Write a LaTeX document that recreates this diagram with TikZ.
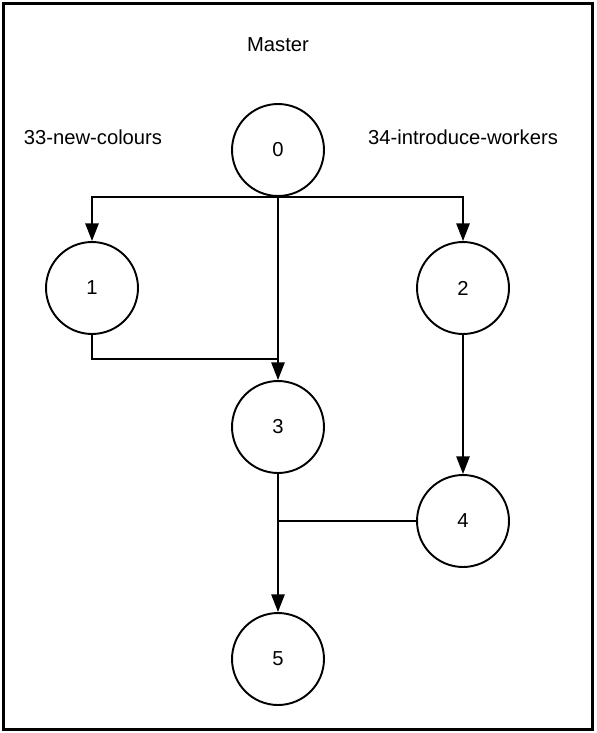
\documentclass[tikz,border=0pt]{standalone}
\usepackage{fontspec}
\setmainfont{Liberation Sans}
\usetikzlibrary{arrows.meta}
\tikzset{
  commit/.style={circle,draw,line width=1.1pt,minimum size=1.84cm,inner sep=0pt,font=\fontsize{11.5}{14}\selectfont},
  branchlabel/.style={font=\fontsize{11.5}{14}\selectfont},
  link/.style={line width=1.1pt},
  arr/.style={link,-{Triangle[length=10pt,width=7.5pt]}}
}
\begin{document}
\begin{tikzpicture}[x=0.02cm,y=-0.02cm]
            \useasboundingbox (0,0) rectangle (596,733);
            % outer frame
            \draw[line width=1.7pt] (3.5,3.5) rectangle (592.5,729.5);

            % branch names
            \node[branchlabel] (master) at (278,45) {Master};
            \node[branchlabel] (newcol) at (93,137) {33-new-colours};
            \node[branchlabel] (intro) at (463,137) {34-introduce-workers};

            % commits
            \node[commit] (n0) at (278,150) {0};
            \node[commit] (n1) at (92,288) {1};
            \node[commit] (n2) at (463,288) {2};
            \node[commit] (n3) at (278,427) {3};
            \node[commit] (n4) at (463,521) {4};
            \node[commit] (n5) at (278,659) {5};

            % branching off master
            \coordinate (split) at (278,197);
            \draw[arr] (split) -| (n1.north);
            \draw[arr] (split) -| (n2.north);
            \draw[arr] (n0) -- (n3);

            % merge of 33-new-colours
            \coordinate (join1) at (278,359);
            \draw[link] (n1.south) |- (join1);

            % 34-introduce-workers
            \draw[arr] (n2) -- (n4);

            % merge of 34-introduce-workers
            \draw[arr] (n3) -- (n5);
            \draw[link] (n4.west) -- (n4.west -| n3);
        \end{tikzpicture}
\end{document}
